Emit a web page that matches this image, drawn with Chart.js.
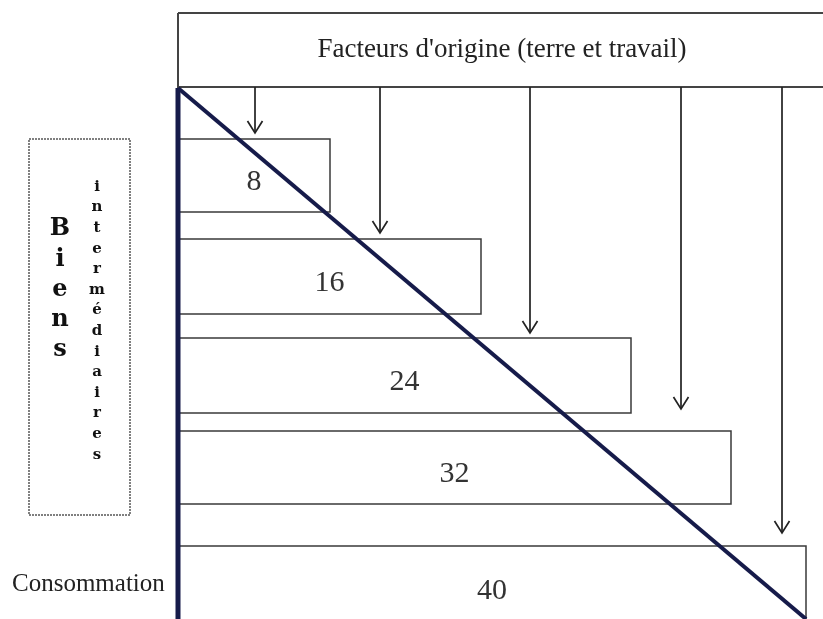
<!DOCTYPE html>
<html lang="fr">
<head>
    <meta charset="UTF-8">
    <title>Triangle de Hayek</title>
    <script src="https://cdn.jsdelivr.net/npm/chart.js"></script>
    <style>
        body {
            margin: 0;
            background: #ffffff;
        }
        #chartContainer {
            width: 823px;
            height: 619px;
        }
    </style>
</head>
<body>

<div id="chartContainer">
    <canvas id="hayekChart" width="823" height="619"></canvas>
</div>

<script>
    // Stages of production (value of each stage)
    const stageLabels = ['8', '16', '24', '32', '40'];
    const barTop = [51, 151, 250, 343, 458];
    const barBottom = [124, 226, 325, 416, 534];
    const barLength = [152, 303, 453, 553, 628];

    // Arrows coming from "Facteurs d'origine"
    const arrowX = [77, 202, 352, 503, 604];
    const arrowTip = [45, 145, 245, 321, 445];

    // Triangle (diagonal + vertical side)
    const triangleX = [0, 628];
    const triangleY = [0, 531];

    // Top box
    const topBoxX = [0, 660];
    const topBoxY = [-75, -1];

    // Left dotted box
    const sideBoxX = [-149, -48];
    const sideBoxY = [51, 427];

    const titleText = "Facteurs d'origine (terre et travail)";
    const sideWord1 = 'Biens';
    const sideWord2 = 'intermédiaires';
    const bottomText = 'Consommation';

    const serif = '"Liberation Serif", "Times New Roman", serif';
    const boldSerif = '"DejaVu Serif", serif';

    // small open arrow head used as a point style
    const arrowHead = document.createElement('canvas');
    arrowHead.width = 20;
    arrowHead.height = 28;
    const ah = arrowHead.getContext('2d');
    ah.strokeStyle = '#222';
    ah.lineWidth = 1.7;
    ah.beginPath();
    ah.moveTo(2.5, 2);
    ah.lineTo(10, 14);
    ah.lineTo(17.5, 2);
    ah.stroke();

    function rect(x1, y1, x2, y2) {
        return [
            {x: x1, y: y1}, {x: x2, y: y1}, {x: x2, y: y2}, {x: x1, y: y2}, {x: x1, y: y1}
        ];
    }

    const datasets = [];

    // diagonal and vertical side (drawn on top)
    datasets.push({
        data: [{x: triangleX[0], y: triangleY[0]}, {x: triangleX[1], y: triangleY[1]}],
        borderColor: '#161b4a',
        borderWidth: 4,
        pointRadius: 0,
        order: 0
    });
    datasets.push({
        data: [{x: triangleX[0], y: triangleY[0]}, {x: triangleX[0], y: triangleY[1] + 10}],
        borderColor: '#161b4a',
        borderWidth: 5,
        pointRadius: 0,
        order: 0
    });

    // bars
    for (let i = 0; i < stageLabels.length; i++) {
        datasets.push({
            data: rect(0, barTop[i], barLength[i], barBottom[i]),
            borderColor: '#3a3a3a',
            borderWidth: 1.5,
            pointRadius: 0,
            order: 2
        });
    }

    // arrows
    for (let i = 0; i < arrowX.length; i++) {
        datasets.push({
            data: [{x: arrowX[i], y: topBoxY[1]}, {x: arrowX[i], y: arrowTip[i]}],
            borderColor: '#222',
            borderWidth: 1.7,
            pointRadius: [0, 6],
            pointStyle: ctx => ctx.dataIndex === 1 ? arrowHead : false,
            order: 1
        });
    }

    // top box
    datasets.push({
        data: rect(topBoxX[0], topBoxY[0], topBoxX[1], topBoxY[1]),
        borderColor: '#444',
        borderWidth: 2,
        pointRadius: 0,
        order: 3
    });

    // left dotted box
    datasets.push({
        data: rect(sideBoxX[0], sideBoxY[0], sideBoxX[1], sideBoxY[1]),
        borderColor: '#808080',
        borderWidth: 2,
        borderDash: [2, 1],
        pointRadius: 0,
        order: 3
    });

    // text labels drawn through the scales
    const textPlugin = {
        id: 'textPlugin',
        afterDatasetsDraw(chart) {
            const ctx = chart.ctx;
            const xs = chart.scales.x;
            const ys = chart.scales.y;
            ctx.save();
            ctx.fillStyle = '#222';
            ctx.textBaseline = 'middle';

            // title in top box
            ctx.textAlign = 'center';
            ctx.font = '27px ' + serif;
            ctx.fillText(titleText, xs.getPixelForValue(324), ys.getPixelForValue(-38));

            // values in bars
            ctx.font = '30px ' + serif;
            ctx.fillStyle = '#333';
            for (let i = 0; i < stageLabels.length; i++) {
                const cx = xs.getPixelForValue(barLength[i] / 2);
                const cy = ys.getPixelForValue((barTop[i] + barBottom[i]) / 2) + 7;
                ctx.fillText(stageLabels[i], cx, cy);
            }

            // "Biens" vertical
            ctx.fillStyle = '#111';
            ctx.font = 'bold 24px ' + boldSerif;
            for (let i = 0; i < sideWord1.length; i++) {
                ctx.fillText(sideWord1[i], xs.getPixelForValue(-118), ys.getPixelForValue(141 + i * 30.3));
            }
            // "intermédiaires" vertical
            ctx.font = 'bold 15px ' + boldSerif;
            for (let i = 0; i < sideWord2.length; i++) {
                ctx.fillText(sideWord2[i], xs.getPixelForValue(-81), ys.getPixelForValue(99 + i * 20.6));
            }

            // "Consommation"
            ctx.textAlign = 'left';
            ctx.fillStyle = '#222';
            ctx.font = '25px ' + serif;
            ctx.fillText(bottomText, xs.getPixelForValue(-166), ys.getPixelForValue(496));
            ctx.restore();
        }
    };

    new Chart(document.getElementById('hayekChart'), {
        type: 'scatter',
        data: {datasets: datasets},
        options: {
            responsive: false,
            animation: false,
            events: [],
            showLine: true,
            layout: {padding: 0, autoPadding: false},
            plugins: {
                legend: {display: false},
                tooltip: {enabled: false}
            },
            scales: {
                x: {type: 'linear', display: false, min: -178, max: 645},
                y: {type: 'linear', display: false, reverse: true, min: -88, max: 531}
            }
        },
        plugins: [textPlugin]
    });
</script>

</body>
</html>
